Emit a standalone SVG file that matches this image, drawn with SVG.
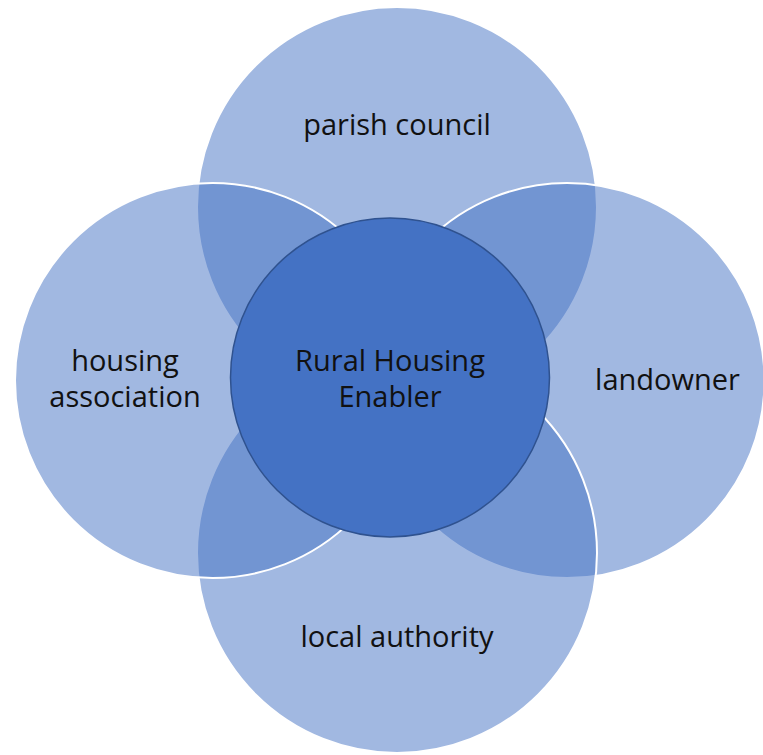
<svg xmlns="http://www.w3.org/2000/svg" width="763" height="755" viewBox="0 0 763 755">
  <style>
    .outer { fill: #4472C4; fill-opacity: 0.5; stroke: #ffffff; stroke-width: 2; }
    .core { fill: #4472C4; stroke: #2F528F; stroke-width: 1.5; }
    .label { font-family: "Open Sans", "Noto Sans", sans-serif; font-size: 29px; fill: #111111; text-anchor: middle; }
  </style>
  <rect width="763" height="755" fill="#ffffff"/>
  <!-- outer partner circles, drawn clockwise so later rims lie on top -->
  <g id="parish-council">
    <circle class="outer" cx="397" cy="207" r="200"/>
    <text class="label" x="397" y="135">parish council</text>
  </g>
  <g id="landowner">
    <circle class="outer" cx="567" cy="380.5" r="197.5"/>
  </g>
  <g id="local-authority">
    <circle class="outer" cx="397" cy="553" r="200"/>
  </g>
  <g id="housing-association">
    <circle class="outer" cx="212.5" cy="380.5" r="197.5"/>
  </g>
  <!-- labels kept above the overlapping fills -->
  <g id="labels">
    <text class="label" x="667.5" y="390">landowner</text>
    <text class="label" x="397" y="647">local authority</text>
    <text class="label" x="125" y="371">housing</text>
    <text class="label" x="125" y="407">association</text>
  </g>
  <g id="rural-housing-enabler">
    <circle class="core" cx="390" cy="377.5" r="159.5"/>
    <text class="label" x="390" y="371">Rural Housing</text>
    <text class="label" x="390" y="407">Enabler</text>
  </g>
  <g id="connectors"/>
</svg>
